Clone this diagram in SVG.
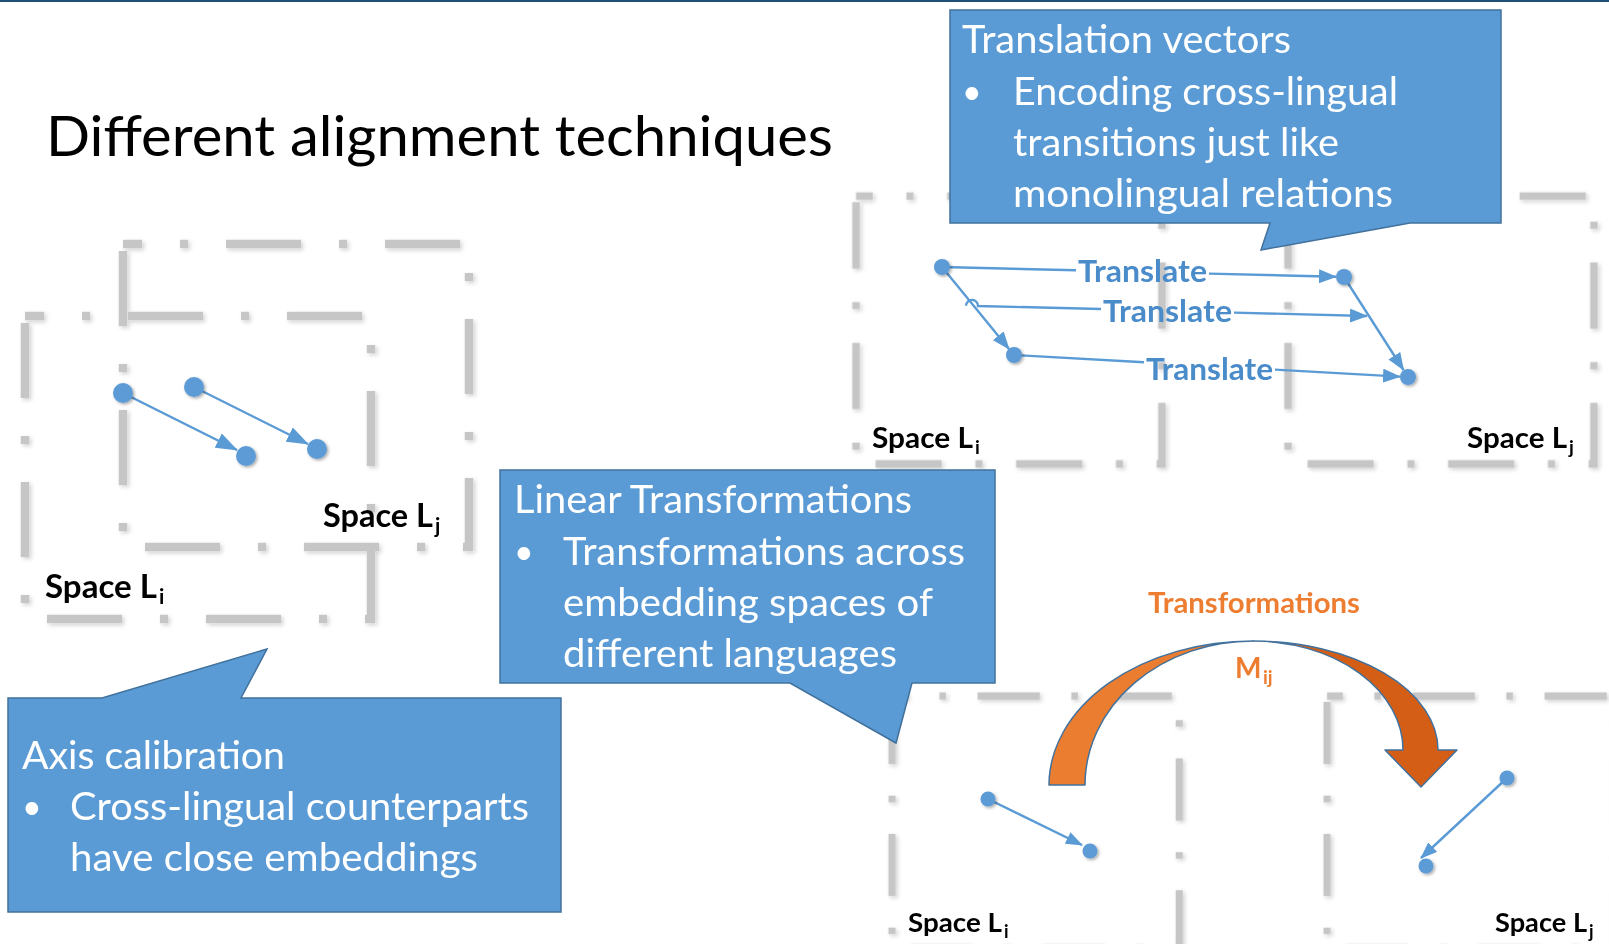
<svg xmlns="http://www.w3.org/2000/svg" xmlns:xlink="http://www.w3.org/1999/xlink" width="1609" height="944" viewBox="0 0 1609 944">
<style>
.ttl{font-family:Lato,"Open Sans","Liberation Sans",sans-serif;font-size:56px;fill:#000}
.ct{font-family:Lato,"Open Sans","Liberation Sans",sans-serif;font-size:39px;fill:#fff}
.bl{font-family:Lato,"Open Sans","Liberation Sans",sans-serif;font-size:34px;fill:#fff}
.sp{font-family:Lato,"Open Sans","Liberation Sans",sans-serif;font-weight:bold;fill:#000}
.tr{font-family:Lato,"Open Sans","Liberation Sans",sans-serif;font-weight:bold;font-size:31px;fill:#4a8bc9}
.or{font-family:Lato,"Open Sans","Liberation Sans",sans-serif;font-weight:bold;fill:#ED7D31}
.callout{fill:#5B9BD5;stroke:#41719C;stroke-width:1.5}
.ln{fill:none;stroke:#5B9BD5;stroke-width:2.4}
.dot{fill:#5B9BD5}
</style>
<defs>
<filter id="gs" x="-10%" y="-10%" width="120%" height="120%">
<feGaussianBlur in="SourceAlpha" stdDeviation="2"/>
<feOffset dx="2" dy="2" result="b"/>
<feFlood flood-color="#000" flood-opacity="0.18"/>
<feComposite in2="b" operator="in" result="sh"/>
<feGaussianBlur in="SourceGraphic" stdDeviation="0.6" result="s"/>
<feMerge><feMergeNode in="sh"/><feMergeNode in="s"/></feMerge>
</filter>
<filter id="ds" x="-50%" y="-50%" width="200%" height="200%">
<feDropShadow dx="1.5" dy="1.5" stdDeviation="1.5" flood-color="#000" flood-opacity="0.35"/>
</filter>
<rect id="sp" x="0" y="0" width="346" height="303" fill="none" stroke="#c6c6c6" stroke-width="8.5" stroke-dasharray="75 38 8 38" stroke-dashoffset="56"/>
<marker id="ahL" markerUnits="userSpaceOnUse" markerWidth="22" markerHeight="16" viewBox="0 0 22 16" refX="21" refY="8" orient="auto"><path d="M0,0 L22,8 L0,16 z" fill="#5B9BD5"/></marker>
<marker id="ahT" markerUnits="userSpaceOnUse" markerWidth="18" markerHeight="14" viewBox="0 0 18 14" refX="17" refY="7" orient="auto"><path d="M0,0 L18,7 L0,14 z" fill="#5B9BD5"/></marker>
<marker id="ahB" markerUnits="userSpaceOnUse" markerWidth="17" markerHeight="13" viewBox="0 0 17 13" refX="16" refY="6.5" orient="auto"><path d="M0,0 L17,6.5 L0,13 z" fill="#5B9BD5"/></marker>
</defs>
<rect x="0" y="0" width="1609" height="944" fill="#fff"/>
<rect x="0" y="0" width="1609" height="2" fill="#1F4E79"/>

<g id="title"><text class="ttl" x="46" y="156" textLength="787" lengthAdjust="spacingAndGlyphs">Different alignment techniques</text></g>

<g id="spaces" filter="url(#gs)">
<use xlink:href="#sp" transform="translate(123,244)"/>
<use xlink:href="#sp" transform="translate(25,316)"/>
<use xlink:href="#sp" transform="translate(856,196) scale(0.884)"/>
<use xlink:href="#sp" transform="translate(1288,196) scale(0.884)"/>
<use xlink:href="#sp" transform="translate(892,696) scale(0.83)"/>
<use xlink:href="#sp" transform="translate(1327,696) scale(0.83)"/>
</g>

<g id="space-labels">
<text class="sp" x="323" y="527" font-size="32" textLength="110" lengthAdjust="spacingAndGlyphs">Space L</text><text class="sp" x="435" y="533" font-size="21">j</text>
<text class="sp" x="45" y="598" font-size="32" textLength="112" lengthAdjust="spacingAndGlyphs">Space L</text><text class="sp" x="159" y="604" font-size="21">i</text>
<text class="sp" x="872" y="448" font-size="28" textLength="101" lengthAdjust="spacingAndGlyphs">Space L</text><text class="sp" x="975" y="454" font-size="19">i</text>
<text class="sp" x="1467" y="448" font-size="28" textLength="100" lengthAdjust="spacingAndGlyphs">Space L</text><text class="sp" x="1569" y="454" font-size="19">j</text>
<text class="sp" x="908" y="932" font-size="26" textLength="94" lengthAdjust="spacingAndGlyphs">Space L</text><text class="sp" x="1004" y="938" font-size="18">i</text>
<text class="sp" x="1495" y="932" font-size="26" textLength="92" lengthAdjust="spacingAndGlyphs">Space L</text><text class="sp" x="1589" y="938" font-size="18">j</text>
</g>

<g id="transform-arrow">
<path d="M1049,785 A204,144 0 0 1 1253,641 A168,144 0 0 0 1085,785 Z" fill="#EB7D30" stroke="#41719C" stroke-width="1.5" stroke-linejoin="round"/>
<path d="M1253,641 A185,109 0 0 1 1438,750 L1457,750 L1421,787 L1385,750 L1403,750 A150,109 0 0 0 1253,641 Z" fill="#D55E16" stroke="#41719C" stroke-width="1.5" stroke-linejoin="round"/>
<text class="or" x="1148" y="613" font-size="28" textLength="212" lengthAdjust="spacingAndGlyphs">Transformations</text>
<text class="or" x="1235" y="678" font-size="28">M</text><text class="or" x="1263" y="684" font-size="19">ij</text>
</g>

<g id="connectors">
<line class="ln" x1="123" y1="393" x2="237" y2="450" marker-end="url(#ahL)"/>
<line class="ln" x1="194" y1="387" x2="308" y2="444" marker-end="url(#ahL)"/>
<path class="ln" d="M942,267 L1076,270.3"/>
<path class="ln" d="M1209,273.6 L1336,276.8" marker-end="url(#ahT)"/>
<path class="ln" d="M966,305.7 A6,6 0 0 1 978,306 L1101,309"/>
<path class="ln" d="M1234,312.6 L1367,316" marker-end="url(#ahT)"/>
<path class="ln" d="M1014,355 L1144,362.3"/>
<path class="ln" d="M1275,369.6 L1400,376.6" marker-end="url(#ahT)"/>
<line class="ln" x1="942" y1="267" x2="1009" y2="349" marker-end="url(#ahT)"/>
<line class="ln" x1="1344" y1="277" x2="1403.5" y2="370" marker-end="url(#ahT)"/>
<line class="ln" x1="988" y1="799" x2="1082" y2="845" stroke-width="2.2" marker-end="url(#ahB)"/>
<line class="ln" x1="1507" y1="778" x2="1421" y2="858" stroke-width="2.2" marker-end="url(#ahB)"/>
<text class="tr" x="1078" y="282" textLength="129" lengthAdjust="spacingAndGlyphs">Translate</text>
<text class="tr" x="1103" y="322" textLength="129" lengthAdjust="spacingAndGlyphs">Translate</text>
<text class="tr" x="1146" y="380" textLength="127" lengthAdjust="spacingAndGlyphs">Translate</text>
</g>

<g id="points" filter="url(#ds)">
<circle class="dot" cx="123" cy="393" r="10"/>
<circle class="dot" cx="194" cy="387" r="10"/>
<circle class="dot" cx="246" cy="456" r="10"/>
<circle class="dot" cx="317" cy="449" r="10"/>
<circle class="dot" cx="942" cy="267" r="8"/>
<circle class="dot" cx="1014" cy="355" r="8"/>
<circle class="dot" cx="1344" cy="277" r="8"/>
<circle class="dot" cx="1408" cy="377" r="8"/>
<circle class="dot" cx="988" cy="799" r="7.5"/>
<circle class="dot" cx="1090" cy="851" r="7.5"/>
<circle class="dot" cx="1507" cy="778" r="7.5"/>
<circle class="dot" cx="1426" cy="866" r="7.5"/>
</g>

<g id="callout-translation">
<path class="callout" d="M950,10 H1501 V223 H1410 L1261,250 L1270,223 H950 Z"/>
<text class="ct" x="962" y="53" textLength="329" lengthAdjust="spacingAndGlyphs">Translation vectors</text>
<text class="bl" x="962" y="104">•</text>
<text class="ct" x="1013" y="105" textLength="385" lengthAdjust="spacingAndGlyphs">Encoding cross-lingual</text>
<text class="ct" x="1013" y="156" textLength="326" lengthAdjust="spacingAndGlyphs">transitions just like</text>
<text class="ct" x="1013" y="207" textLength="380" lengthAdjust="spacingAndGlyphs">monolingual relations</text>
</g>

<g id="callout-linear">
<path class="callout" d="M500,470 H995 V683 H912 L896,743 L790,683 H500 Z"/>
<text class="ct" x="514" y="513" textLength="398" lengthAdjust="spacingAndGlyphs">Linear Transformations</text>
<text class="bl" x="514" y="564">•</text>
<text class="ct" x="563" y="565" textLength="402" lengthAdjust="spacingAndGlyphs">Transformations across</text>
<text class="ct" x="563" y="616" textLength="370" lengthAdjust="spacingAndGlyphs">embedding spaces of</text>
<text class="ct" x="563" y="667" textLength="334" lengthAdjust="spacingAndGlyphs">different languages</text>
</g>

<g id="callout-axis">
<path class="callout" d="M8,698 H102 L267,649 L241,698 H561 V912 H8 Z"/>
<text class="ct" x="22" y="769" textLength="263" lengthAdjust="spacingAndGlyphs">Axis calibration</text>
<text class="bl" x="22" y="819">•</text>
<text class="ct" x="70" y="820" textLength="459" lengthAdjust="spacingAndGlyphs">Cross-lingual counterparts</text>
<text class="ct" x="70" y="871" textLength="408" lengthAdjust="spacingAndGlyphs">have close embeddings</text>
</g>
</svg>
